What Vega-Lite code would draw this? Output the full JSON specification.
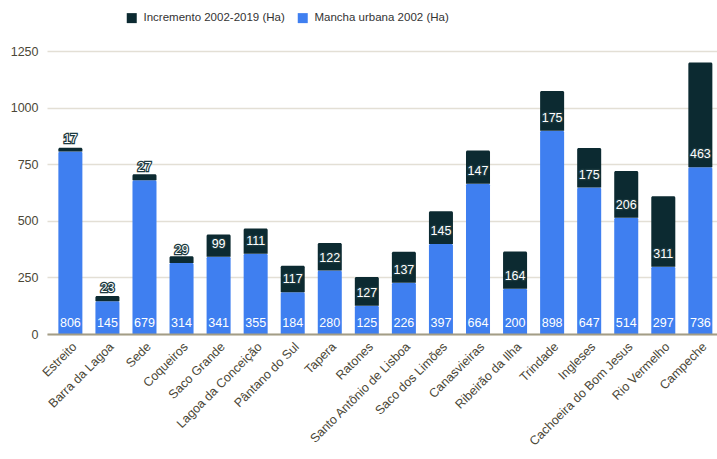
{
  "$schema": "https://vega.github.io/schema/vega-lite/v6.json",
  "width": 670,
  "height": 283,
  "autosize": {"type": "none"},
  "padding": {"left": 47, "top": 51, "right": 0, "bottom": 125},
  "background": "white",
  "config": {"view": {"stroke": null}, "font": "Liberation Sans"},
  "data": {
    "values": [
      {"bairro": "Estreito", "serie": "Mancha urbana 2002 (Ha)", "ha": 806},
      {"bairro": "Estreito", "serie": "Incremento 2002-2019 (Ha)", "ha": 17},
      {"bairro": "Barra da Lagoa", "serie": "Mancha urbana 2002 (Ha)", "ha": 145},
      {"bairro": "Barra da Lagoa", "serie": "Incremento 2002-2019 (Ha)", "ha": 23},
      {"bairro": "Sede", "serie": "Mancha urbana 2002 (Ha)", "ha": 679},
      {"bairro": "Sede", "serie": "Incremento 2002-2019 (Ha)", "ha": 27},
      {"bairro": "Coqueiros", "serie": "Mancha urbana 2002 (Ha)", "ha": 314},
      {"bairro": "Coqueiros", "serie": "Incremento 2002-2019 (Ha)", "ha": 29},
      {"bairro": "Saco Grande", "serie": "Mancha urbana 2002 (Ha)", "ha": 341},
      {"bairro": "Saco Grande", "serie": "Incremento 2002-2019 (Ha)", "ha": 99},
      {"bairro": "Lagoa da Conceição", "serie": "Mancha urbana 2002 (Ha)", "ha": 355},
      {"bairro": "Lagoa da Conceição", "serie": "Incremento 2002-2019 (Ha)", "ha": 111},
      {"bairro": "Pântano do Sul", "serie": "Mancha urbana 2002 (Ha)", "ha": 184},
      {"bairro": "Pântano do Sul", "serie": "Incremento 2002-2019 (Ha)", "ha": 117},
      {"bairro": "Tapera", "serie": "Mancha urbana 2002 (Ha)", "ha": 280},
      {"bairro": "Tapera", "serie": "Incremento 2002-2019 (Ha)", "ha": 122},
      {"bairro": "Ratones", "serie": "Mancha urbana 2002 (Ha)", "ha": 125},
      {"bairro": "Ratones", "serie": "Incremento 2002-2019 (Ha)", "ha": 127},
      {"bairro": "Santo Antônio de Lisboa", "serie": "Mancha urbana 2002 (Ha)", "ha": 226},
      {"bairro": "Santo Antônio de Lisboa", "serie": "Incremento 2002-2019 (Ha)", "ha": 137},
      {"bairro": "Saco dos Limões", "serie": "Mancha urbana 2002 (Ha)", "ha": 397},
      {"bairro": "Saco dos Limões", "serie": "Incremento 2002-2019 (Ha)", "ha": 145},
      {"bairro": "Canasvieiras", "serie": "Mancha urbana 2002 (Ha)", "ha": 664},
      {"bairro": "Canasvieiras", "serie": "Incremento 2002-2019 (Ha)", "ha": 147},
      {"bairro": "Ribeirão da Ilha", "serie": "Mancha urbana 2002 (Ha)", "ha": 200},
      {"bairro": "Ribeirão da Ilha", "serie": "Incremento 2002-2019 (Ha)", "ha": 164},
      {"bairro": "Trindade", "serie": "Mancha urbana 2002 (Ha)", "ha": 898},
      {"bairro": "Trindade", "serie": "Incremento 2002-2019 (Ha)", "ha": 175},
      {"bairro": "Ingleses", "serie": "Mancha urbana 2002 (Ha)", "ha": 647},
      {"bairro": "Ingleses", "serie": "Incremento 2002-2019 (Ha)", "ha": 175},
      {"bairro": "Cachoeira do Bom Jesus", "serie": "Mancha urbana 2002 (Ha)", "ha": 514},
      {"bairro": "Cachoeira do Bom Jesus", "serie": "Incremento 2002-2019 (Ha)", "ha": 206},
      {"bairro": "Rio Vermelho", "serie": "Mancha urbana 2002 (Ha)", "ha": 297},
      {"bairro": "Rio Vermelho", "serie": "Incremento 2002-2019 (Ha)", "ha": 311},
      {"bairro": "Campeche", "serie": "Mancha urbana 2002 (Ha)", "ha": 736},
      {"bairro": "Campeche", "serie": "Incremento 2002-2019 (Ha)", "ha": 463}
    ]
  },
  "transform": [
    {"stack": "ha", "groupby": ["bairro"], "sort": [{"field": "serie", "order": "descending"}], "as": ["y0", "y1"]}
  ],
  "encoding": {
    "x": {
      "field": "bairro",
      "type": "nominal",
      "sort": ["Estreito", "Barra da Lagoa", "Sede", "Coqueiros", "Saco Grande", "Lagoa da Conceição", "Pântano do Sul", "Tapera", "Ratones", "Santo Antônio de Lisboa", "Saco dos Limões", "Canasvieiras", "Ribeirão da Ilha", "Trindade", "Ingleses", "Cachoeira do Bom Jesus", "Rio Vermelho", "Campeche"],
      "scale": {"paddingInner": 0.352, "paddingOuter": 0.216, "align": 0.71},
      "axis": {
        "title": null,
        "labelAngle": -45,
        "labelFontSize": 12.5,
        "labelColor": "#4b4737",
        "labelPadding": 6,
        "ticks": false,
        "domainColor": "#a39d86",
        "domainWidth": 2,
        "zindex": 1
      }
    }
  },
  "layer": [
    {
      "mark": {"type": "bar", "cornerRadiusTopLeft": 1.5, "cornerRadiusTopRight": 1.5},
      "encoding": {
        "y": {
          "field": "y0",
          "type": "quantitative",
          "scale": {"domain": [0, 1250], "nice": false},
          "axis": {
            "title": null,
            "values": [0, 250, 500, 750, 1000, 1250],
            "format": "d",
            "labelFontSize": 12.5,
            "labelColor": "#4b4737",
            "labelPadding": 9,
            "ticks": false,
            "domain": false,
            "gridColor": "#e3dfd5",
            "gridWidth": 1.5
          }
        },
        "y2": {"field": "y1"},
        "color": {
          "field": "serie",
          "type": "nominal",
          "scale": {"domain": ["Incremento 2002-2019 (Ha)", "Mancha urbana 2002 (Ha)"], "range": ["#0c2a31", "#3f7ff0"]},
          "legend": {
            "title": null,
            "orient": "none",
            "direction": "horizontal",
            "legendX": 79,
            "legendY": -39,
            "symbolType": "square",
            "symbolSize": 100,
            "symbolStrokeWidth": 0,
            "labelFontSize": 11.5,
            "labelColor": "#333333",
            "labelOffset": 6,
            "columnPadding": 12,
            "padding": 0
          }
        }
      }
    },
    {
      "transform": [{"filter": "datum.serie === 'Mancha urbana 2002 (Ha)'"}],
      "mark": {"type": "text", "color": "white", "fontSize": 12.5, "baseline": "middle", "dy": -11},
      "encoding": {
        "y": {"field": "y0", "type": "quantitative"},
        "text": {"field": "ha", "type": "quantitative"}
      }
    },
    {
      "transform": [{"filter": "datum.serie === 'Incremento 2002-2019 (Ha)'"}],
      "mark": {"type": "text", "color": "#1d3a40", "stroke": "#1d3a40", "strokeWidth": 2.5, "fontSize": 12.5, "baseline": "middle", "dy": -13},
      "encoding": {
        "y": {"field": "y0", "type": "quantitative"},
        "text": {"field": "ha", "type": "quantitative"}
      }
    },
    {
      "transform": [{"filter": "datum.serie === 'Incremento 2002-2019 (Ha)'"}],
      "mark": {"type": "text", "color": "white", "fontSize": 12.5, "baseline": "middle", "dy": -13},
      "encoding": {
        "y": {"field": "y0", "type": "quantitative"},
        "text": {"field": "ha", "type": "quantitative"}
      }
    }
  ]
}
